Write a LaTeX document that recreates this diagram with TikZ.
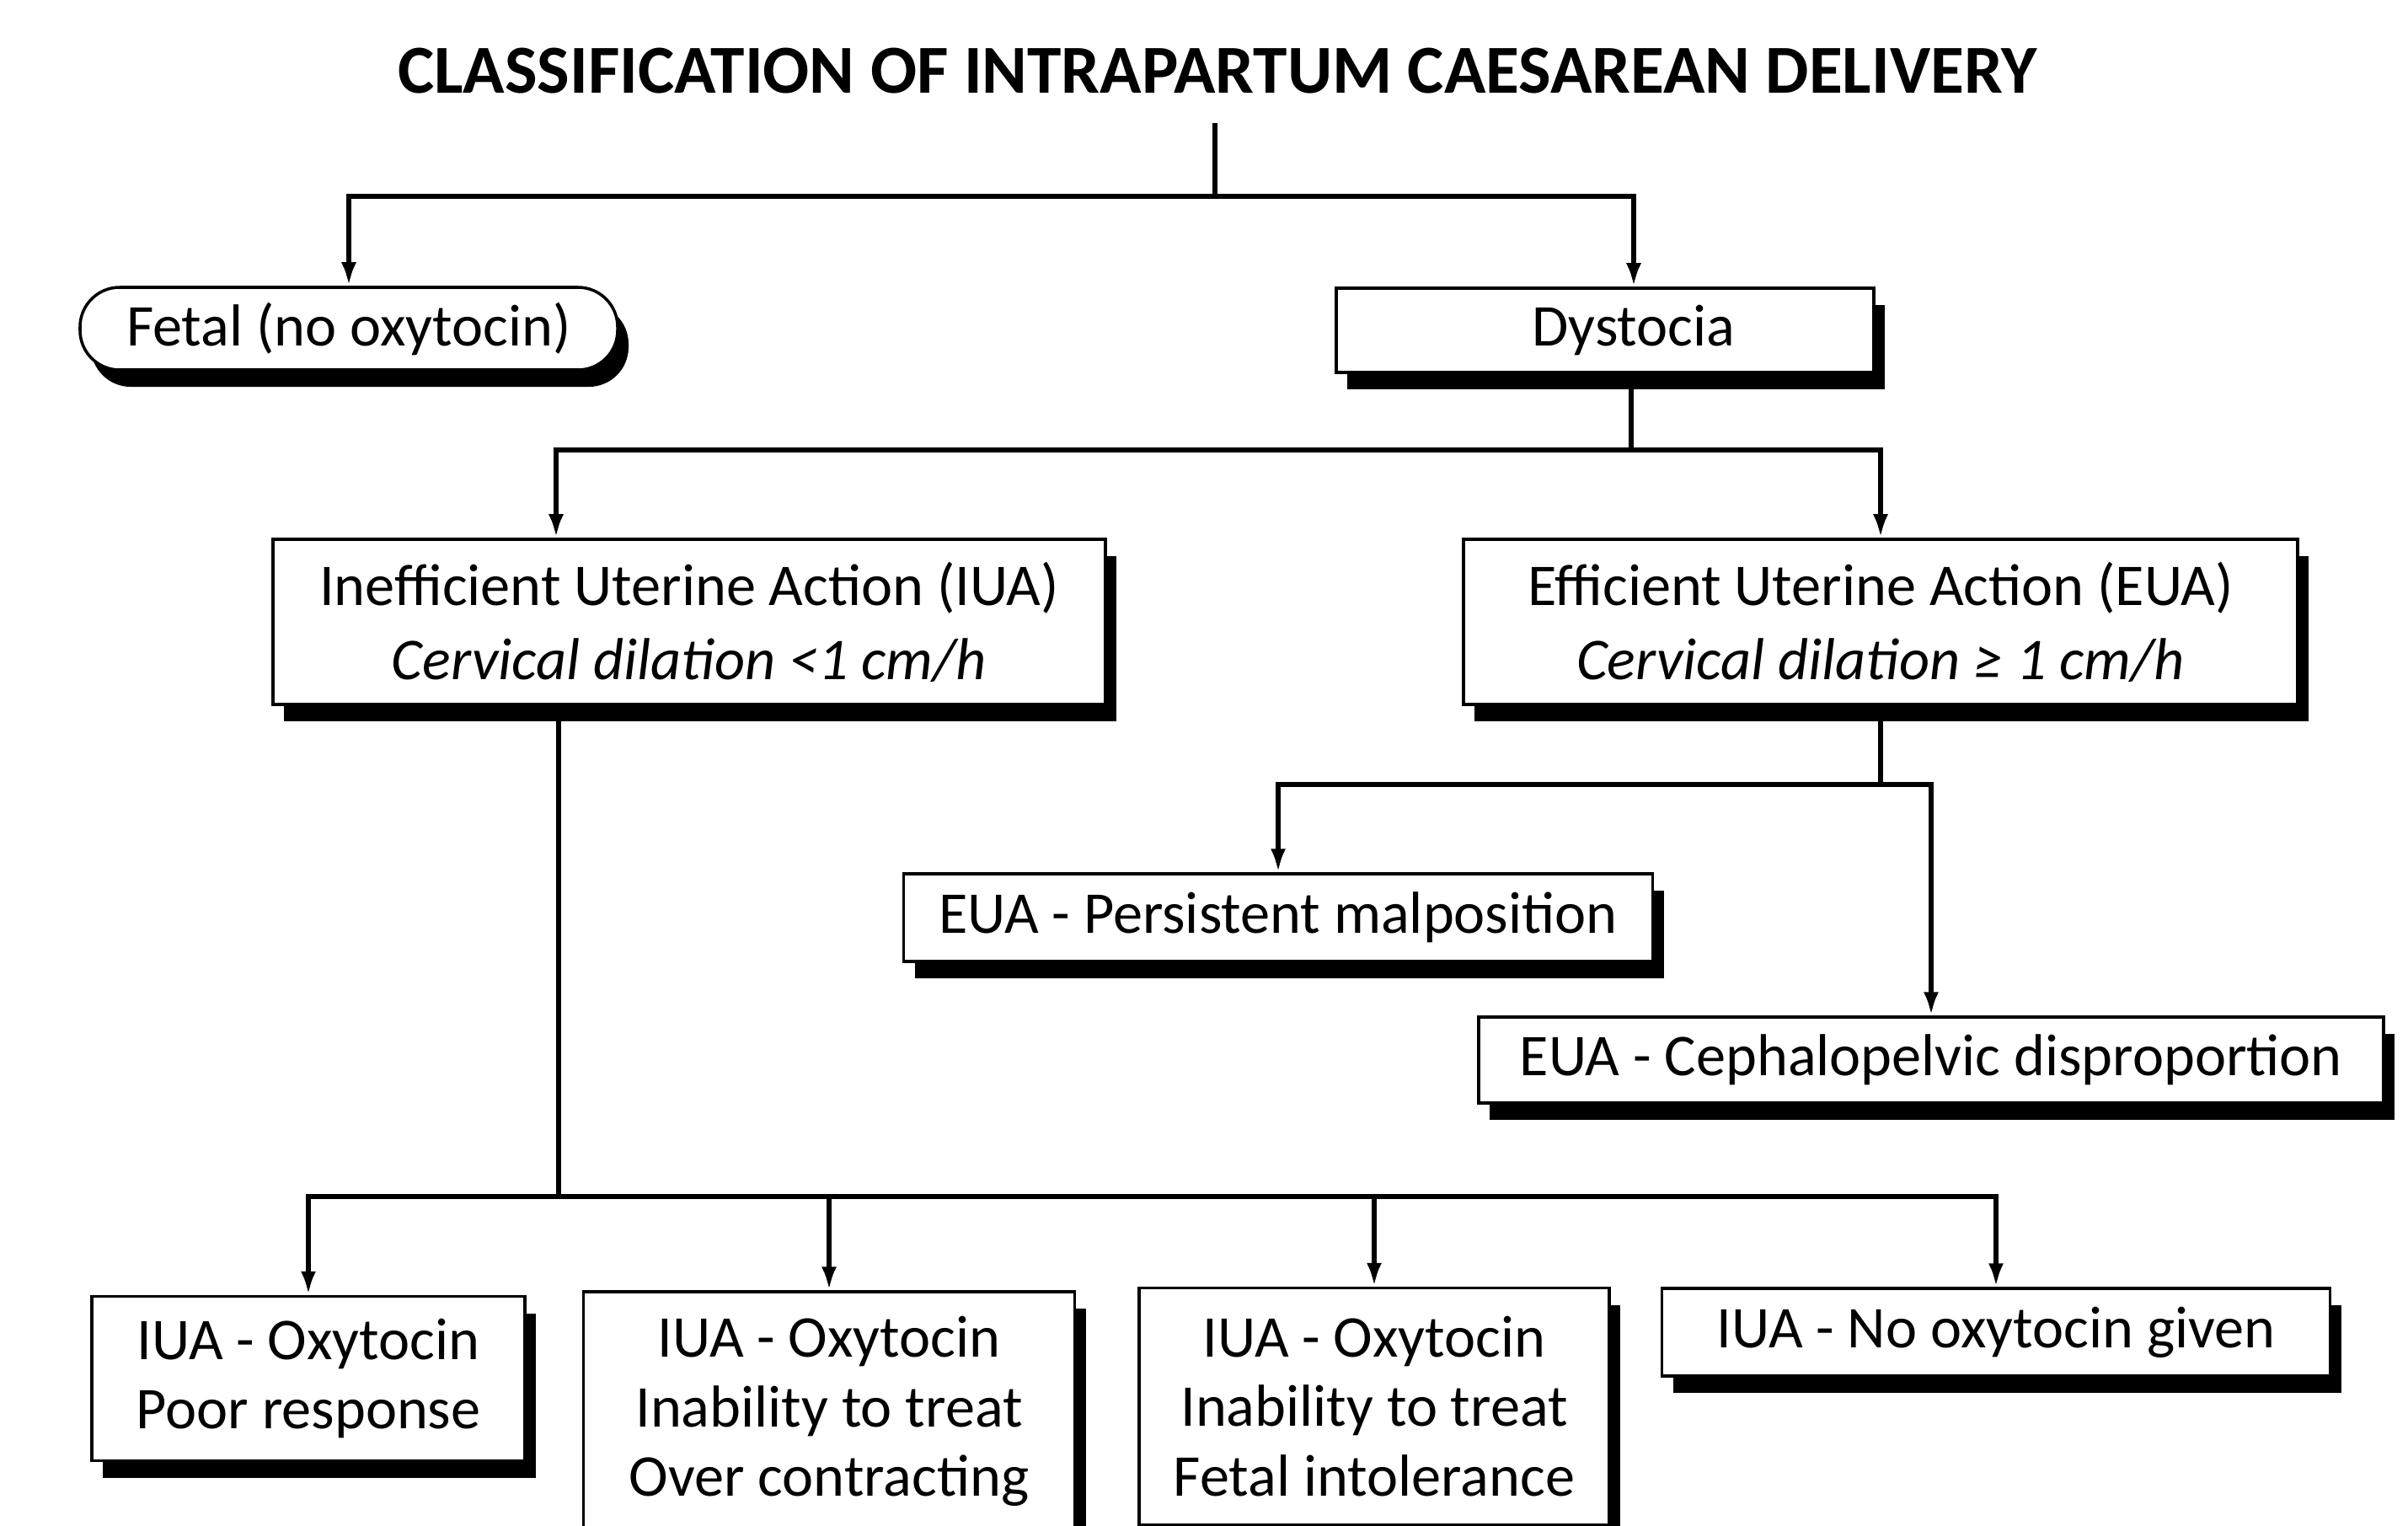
\documentclass[tikz,border=0pt]{standalone}
\usepackage{fontspec}
\setmainfont{Carlito}
\usetikzlibrary{arrows.meta,shadows}

\begin{document}
\begin{tikzpicture}[
        box/.style={draw, line width=1pt, fill=white, align=center,
            font=\fontsize{20}{25}\selectfont,
            drop shadow={shadow xshift=0.13cm, shadow yshift=-0.2cm, fill=black, opacity=1}},
        lowbox/.style={box, font=\fontsize{20}{23.5}\selectfont},
        line/.style={line width=1.6pt},
        arrow/.style={line width=1.6pt, -{Latex[length=0.28cm,width=0.18cm]}}
    ]
    \clip (0,0) rectangle (28.58,-18.10);
    \fill[white] (0,0) rectangle (28.58,-18.10);

    \node (title) at (14.45,-0.84) {\bfseries\fontsize{23.2}{27}\selectfont CLASSIFICATION OF INTRAPARTUM CAESAREAN DELIVERY};

    \node[box, rounded corners=0.47cm, minimum width=6.38cm, minimum height=0.98cm] (fetal) at (4.14,-3.90) {Fetal (no oxytocin)};
    \node[box, minimum width=6.38cm, minimum height=1.0cm] (dystocia) at (19.05,-3.92) {\hspace*{0.68cm}Dystocia};

    \node[box, minimum width=9.88cm, minimum height=1.96cm] (iua) at (8.18,-7.38)
        {Inefficient Uterine Action (IUA)\\ \textit{Cervical dilation <1 cm/h}};
    \node[box, minimum width=9.90cm, minimum height=1.96cm] (eua) at (22.32,-7.38)
        {Efficient Uterine Action (EUA)\\ \textit{Cervical dilation ≥ 1 cm/h}};

    \node[box, minimum width=8.89cm, minimum height=1.04cm] (malpos) at (15.17,-10.89) {EUA - Persistent malposition};
    \node[box, minimum width=10.74cm, minimum height=1.02cm] (cpd) at (22.92,-12.58) {EUA - Cephalopelvic disproportion};

    \node[lowbox, minimum width=5.14cm, minimum height=1.95cm] (poor) at (3.66,-16.36)
        {IUA - Oxytocin\\ Poor response};
    \node[lowbox, minimum width=5.83cm, minimum height=2.84cm] (overc) at (9.84,-16.75)
        {IUA - Oxytocin\\ Inability to treat\\ Over contracting};
    \node[lowbox, minimum width=5.58cm, minimum height=2.81cm] (fetint) at (16.31,-16.69)
        {IUA - Oxytocin\\ Inability to treat\\ Fetal intolerance};
    \node[lowbox, minimum width=7.93cm, minimum height=1.04cm] (nooxy) at (23.69,-15.81) {IUA - No oxytocin given};

    % title split
    \coordinate (top) at (14.42,-1.46);
    \coordinate (split1) at (14.42,-2.33);
    \draw[line] (top) -- (split1);
    \draw[arrow] (split1) -| (fetal.north);
    \draw[arrow] (split1) -| ([xshift=0.34cm]dystocia.north);

    % dystocia
    \draw[line] ([xshift=0.31cm]dystocia.south) -- ++(0,-0.90) coordinate (split2);
    \draw[arrow] (split2) -| ([xshift=-1.58cm]iua.north);
    \draw[arrow] (split2) -| (eua.north);

    % efficient
    \draw[line] (eua.south) -- ++(0,-0.93) coordinate (split3);
    \draw[arrow] (split3) -| (malpos.north);
    \draw[arrow] (split3) -| (cpd.north);

    % inefficient
    \draw[line] ([xshift=-1.55cm]iua.south) -- ++(0,-5.82) coordinate (split4);
    \draw[arrow] (split4) -| (poor.north);
    \draw[arrow] (split4) -| (overc.north);
    \draw[arrow] (split4) -| (fetint.north);
    \draw[arrow] (split4) -| (nooxy.north);
\end{tikzpicture}
\end{document}
